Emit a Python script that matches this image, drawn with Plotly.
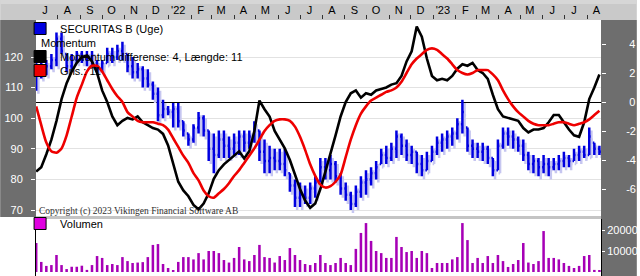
import pandas as pd
import plotly.graph_objects as go

# ---------------- data ----------------
dates = pd.date_range("2021-07-02", periods=112, freq="7D")

price_open = [111,114,116,117,119,126,121,117,119,121,
              119,120,118,116,118,121,120,122,121,117,
              115,116,113,111,108,101,103,102,103,99,
              95,93,97,100,96,90,88,93,91,90,
              92,94,92,94,96,89,86,87,86,85,
              82,78,74,75,74,77,79,84,83,85,
              81,77,75,72,76,79,80,82,85,88,
              87,90,94,91,88,89,85,83,86,89,
              92,93,94,95,98,97,91,90,89,90,
              87,83,91,95,94,93,91,88,85,86,
              84,85,84,85,86,87,86,88,89,88,
              92,90]
price_high = [118,118,119,121,128,128,121,121,122,122,
              122,122,119,119,123,123,124,125,121,120,
              118,117,116,112,110,106,104,105,105,99,
              95,98,102,101,96,95,96,96,94,95,
              96,96,96,99,96,93,91,90,90,90,
              82,80,79,78,79,81,87,87,88,86,
              82,79,76,78,81,83,84,86,90,91,
              92,96,95,93,91,89,88,89,91,94,
              95,96,97,100,106,97,93,92,92,91,
              87,93,97,97,96,94,93,89,88,87,
              88,87,87,88,89,88,90,91,91,97,
              92,91]
price_low = [109,113,114,116,117,121,115,116,118,118,
             117,117,115,115,118,118,119,119,115,113,
             113,110,110,106,99,100,101,97,97,94,
             91,92,95,94,86,82,87,87,87,88,
             88,89,90,92,86,82,82,83,83,81,
             76,71,71,72,72,74,79,80,80,79,
             75,73,70,71,74,75,78,80,85,85,
             86,87,88,86,85,82,81,83,86,88,
             89,90,91,93,95,89,87,87,86,85,
             81,83,90,91,90,89,86,83,82,81,
             82,81,83,83,84,84,86,86,87,88,
             88,88]
price_close = [114,116,117,119,126,122,117,119,121,119,
               120,118,116,118,121,120,122,121,117,115,
               116,113,111,108,101,103,102,103,99,96,
               93,97,100,96,90,88,93,91,90,92,
               94,92,94,97,89,86,87,86,85,83,
               78,74,75,74,77,79,84,83,85,81,
               77,75,72,76,79,80,82,84,88,87,
               90,94,91,88,89,85,83,86,89,92,
               93,94,95,98,102,91,90,89,90,87,
               83,91,95,94,93,91,88,85,86,84,
               85,84,85,86,87,86,88,89,88,94,
               90,89]
momentum = [-4.8,-4.5,-3.6,-2.6,-1.3,0.2,1.3,2.1,2.7,3.1,
            3.2,2.8,2.0,0.8,0.0,-1.0,-1.6,-1.3,-1.1,-1.2,
            -1.0,-1.4,-1.6,-1.8,-1.9,-2.2,-3.0,-4.3,-5.5,-6.1,
            -6.5,-7.1,-7.4,-7.0,-6.3,-5.3,-4.7,-4.3,-4.0,-3.7,
            -3.4,-3.9,-3.4,-2.0,0.1,-0.5,-1.0,-2.0,-2.6,-3.2,
            -4.0,-5.0,-6.0,-6.8,-7.3,-7.0,-6.0,-4.8,-3.6,-2.3,
            -1.0,0.0,0.6,0.8,0.3,0.6,0.5,0.8,0.9,1.0,
            1.2,1.3,1.8,2.8,3.5,5.2,4.5,3.0,1.8,1.5,
            1.6,1.5,1.8,2.3,2.6,2.5,2.7,2.2,2.0,1.6,
            0.5,-0.5,-1.0,-1.1,-1.2,-1.3,-1.8,-2.1,-1.9,-1.9,
            -1.8,-1.4,-0.9,-0.9,-1.4,-1.9,-2.3,-2.4,-1.4,0.2,
            1.0,1.9]
momentum_avg = [-0.3,-1.6,-2.8,-3.4,-3.5,-3.2,-2.3,-1.0,0.3,1.2,
                2.1,2.5,2.5,2.1,1.5,0.9,0.4,0.0,-0.7,-1.0,
                -1.3,-1.4,-1.4,-1.4,-1.5,-1.6,-1.9,-2.5,-3.1,-3.7,
                -4.2,-4.9,-5.4,-6.1,-6.5,-6.6,-6.3,-6.0,-5.6,-5.1,
                -4.7,-4.2,-3.7,-3.2,-2.6,-2.0,-1.6,-1.3,-1.2,-1.2,
                -1.3,-1.7,-2.4,-3.3,-4.3,-5.1,-5.7,-5.9,-5.8,-5.5,
                -5.0,-3.8,-2.6,-1.6,-0.8,-0.3,0.1,0.3,0.5,0.7,
                0.8,1.0,1.4,2.0,2.6,3.0,3.3,3.6,3.7,3.6,
                3.3,3.0,2.6,2.2,2.0,1.9,2.0,2.2,2.2,2.2,
                1.9,1.5,0.8,0.2,-0.3,-0.7,-1.0,-1.3,-1.5,-1.6,
                -1.6,-1.6,-1.5,-1.4,-1.4,-1.5,-1.6,-1.5,-1.4,-1.2,
                -0.9,-0.6]
volume = [13800,4800,2900,3300,8100,3300,1400,2500,2500,3000,
          1000,3300,7600,6700,3300,3800,3300,7100,5200,4300,
          4500,4700,7100,12900,13300,3800,1900,800,4800,7100,
          7100,6000,9000,6000,10000,10000,9000,5700,4500,6700,
          11900,6000,5200,8100,12900,7100,6700,4500,7600,5700,
          11400,8100,5700,3800,3300,4300,8100,4300,3300,4300,
          6700,4300,3300,11000,18600,23300,14800,10000,9000,6700,
          6700,16700,11900,9500,10000,6700,10000,9000,1900,4300,
          4300,4300,6000,7100,23300,15200,4300,6700,4300,7600,
          4300,8100,5200,2400,3800,5700,13800,4500,3800,5200,
          19500,6700,6700,6000,4300,2900,1900,2900,7600,8100,
          1000,600]

month_labels = ["J","A","S","O","N","D","'22","F","M","A","M","J",
                "J","A","S","O","N","D","'23","F","M","A","M","J","J","A"]
price_ticks = [70, 80, 90, 100, 110, 120]
mom_ticks = [-6, -4, -2, 0, 2, 4]
mom_ticktext = ["-6", "-4", "-2", "\u00a00", "\u00a02", "\u00a04"]
vol_ticks = [10000, 20000]
vol_ticktext = ["10000'", "20000'"]
year_starts = ["2022-01-01", "2023-01-01"]

name_price = "SECURITAS B (Uge)"
name_mom = "Momentum differense: 4, Længde: 11"
name_avg = "Gns.: 11"
name_vol = "Volumen"

# ---------------- layout helpers ----------------
W, H = 640, 276
L, R, T, B = 36, 36, 20, 0
PW, PH = W - L - R, H - T - B
def py(p):  # pixel y -> paper y
    return (H - p) / PH
def px(p):  # pixel x -> paper x
    return (p - L) / PW

FONT = "Liberation Sans, Arial, sans-serif"
month_pos = pd.date_range("2021-07-01", periods=len(month_labels), freq="MS") + pd.Timedelta(days=13)

fig = go.Figure()

# price bar shadow
shift = pd.Timedelta(days=3)
fig.add_trace(go.Ohlc(
    x=dates + shift,
    open=[v - 1.0 for v in price_open], high=[v - 1.0 for v in price_high],
    low=[v - 1.0 for v in price_low], close=[v - 1.0 for v in price_close],
    increasing=dict(line=dict(color="#c6c6f0", width=2.5)),
    decreasing=dict(line=dict(color="#c6c6f0", width=2.5)),
    xaxis="x", yaxis="y", showlegend=False, hoverinfo="skip"))
# price bars
fig.add_trace(go.Ohlc(
    x=dates, open=price_open, high=price_high, low=price_low, close=price_close,
    increasing=dict(line=dict(color="#0000e0", width=2.5)),
    decreasing=dict(line=dict(color="#0000e0", width=2.5)),
    xaxis="x", yaxis="y", showlegend=False, name=name_price))
# momentum
fig.add_trace(go.Scatter(x=dates, y=momentum, mode="lines",
                         line=dict(color="#000000", width=2.6),
                         xaxis="x", yaxis="y2", showlegend=False, name=name_mom))
fig.add_trace(go.Scatter(x=dates, y=momentum_avg, mode="lines",
                         line=dict(color="#ee0000", width=2.6, shape="spline", smoothing=0.6),
                         xaxis="x", yaxis="y2", showlegend=False, name=name_avg))
# volume
fig.add_trace(go.Bar(x=dates, y=volume, marker=dict(color="#a600b6", line=dict(width=0)),
                     width=3.5 * 86400000, xaxis="x2", yaxis="y3", showlegend=False, name=name_vol))

# legend entries (box symbols)
for nm, col, lg in [(name_price, "#0000e0", "legend"), (name_mom, "#000000", "legend2"),
                    (name_avg, "#ee0000", "legend3"), (name_vol, "#e000e0", "legend4")]:
    fig.add_trace(go.Bar(x=[None], y=[None], name=nm, legend=lg,
                         marker=dict(color=col, line=dict(color="#000000", width=1)),
                         xaxis="x", yaxis="y", showlegend=True, hoverinfo="skip"))

leg_common = dict(bgcolor="rgba(0,0,0,0)", borderwidth=0, xanchor="left", yanchor="top",
                  font=dict(family=FONT, size=11, color="#000000"), itemclick=False,
                  tracegroupgap=0)

shapes = [
    dict(type="rect", xref="paper", yref="paper", x0=px(0), x1=px(W), y0=py(T), y1=py(0),
         fillcolor="#c9c9c9", line=dict(width=0), layer="below"),
    dict(type="rect", xref="paper", yref="paper", x0=px(0), x1=px(W), y0=py(4), y1=py(0),
         fillcolor="#d6d6d6", line=dict(width=0), layer="below"),
    dict(type="rect", xref="paper", yref="paper", x0=px(0), x1=0, y0=py(217), y1=py(T),
         fillcolor="#6e6e6e", line=dict(width=0), layer="below"),
    dict(type="rect", xref="paper", yref="paper", x0=1, x1=px(W), y0=py(H), y1=py(T),
         fillcolor="#6e6e6e", line=dict(width=0), layer="below"),
    dict(type="rect", xref="paper", yref="paper", x0=0, x1=1, y0=py(219), y1=py(216),
         fillcolor="#c4c4c4", line=dict(width=0), layer="below"),
]

x_range = ["2021-07-01 18:00", "2023-08-20 05:00"]

fig.update_layout(
    width=W, height=H,
    margin=dict(l=L, r=R, t=T, b=B, pad=0),
    paper_bgcolor="#ffffff", plot_bgcolor="#ffffff",
    font=dict(family=FONT, size=11, color="#000000"),
    barmode="overlay",
    shapes=shapes,
    xaxis=dict(domain=[0, 1], range=x_range, anchor="y", side="top", type="date",
               tickmode="array", tickvals=month_pos, ticktext=month_labels,
               ticks="", showgrid=False, zeroline=False, showline=False,
               tickfont=dict(family=FONT, size=11, color="#000000"),
               ticklabelstandoff=3,
               minor=dict(tickmode="linear", tick0="2021-07-01", dtick="M1", ticks="outside",
                          ticklen=4, tickwidth=1, tickcolor="#333333", showgrid=False),
               rangeslider=dict(visible=False), fixedrange=True),
    xaxis3=dict(overlaying="x", matches="x", anchor="y", side="top", type="date",
                tickmode="array", tickvals=year_starts, ticks="outside", ticklen=16,
                tickwidth=1, tickcolor="#333333", showticklabels=False,
                showgrid=True, gridcolor="#c4c4c4", gridwidth=1, zeroline=False, showline=False),
    yaxis=dict(domain=[py(216), 1], range=[68.04, 132.09], anchor="x", side="left",
               tickmode="array", tickvals=price_ticks, ticks="outside", ticklen=4,
               tickcolor="#ffffff", tickfont=dict(family=FONT, size=11, color="#ffffff"),
               ticklabelstandoff=6,
               showgrid=True, gridcolor="#e2e2e2", gridwidth=1, zeroline=False, showline=False,
               fixedrange=True),
    yaxis2=dict(overlaying="y", anchor="x", side="right", range=[-7.862, 5.655],
                tickmode="array", tickvals=mom_ticks, ticktext=mom_ticktext,
                ticks="outside", ticklen=4, tickcolor="#ffffff",
                tickfont=dict(family=FONT, size=11, color="#ffffff"), ticklabelstandoff=18,
                showgrid=False, zeroline=True, zerolinecolor="#000000", zerolinewidth=1,
                showline=False, fixedrange=True),
    xaxis2=dict(domain=[0, 1], matches="x", anchor="y3", showticklabels=False, ticks="",
                showgrid=False, zeroline=False, showline=False, type="date"),
    yaxis3=dict(domain=[0, py(219)], anchor="x2", side="right", range=[-1905, 25238],
                tickmode="array", tickvals=vol_ticks, ticktext=vol_ticktext,
                ticks="outside", ticklen=3, tickcolor="#ffffff",
                tickfont=dict(family=FONT, size=11, color="#ffffff"), ticklabelstandoff=0,
                showgrid=False, zeroline=False, showline=True, mirror=True,
                linecolor="#000000", linewidth=1, fixedrange=True),
    legend=dict(x=px(20), y=py(14), **leg_common),
    legend2=dict(x=px(20), y=py(42), **leg_common),
    legend3=dict(x=px(20), y=py(56), **leg_common),
    legend4=dict(x=px(20), y=py(209), **leg_common),
    annotations=[
        dict(text="Momentum", xref="paper", yref="paper", x=px(39), y=py(43),
             xanchor="left", yanchor="middle", showarrow=False,
             font=dict(family=FONT, size=11, color="#000000")),
        dict(text="Copyright (c) 2023 Vikingen Financial Software AB", xref="paper", yref="paper",
             x=px(37), y=py(211), xanchor="left", yanchor="middle", showarrow=False,
             font=dict(family="Liberation Serif, Times New Roman, serif", size=9.5, color="#303030")),
    ],
    hovermode=False,
)

fig.write_html("out.html")
